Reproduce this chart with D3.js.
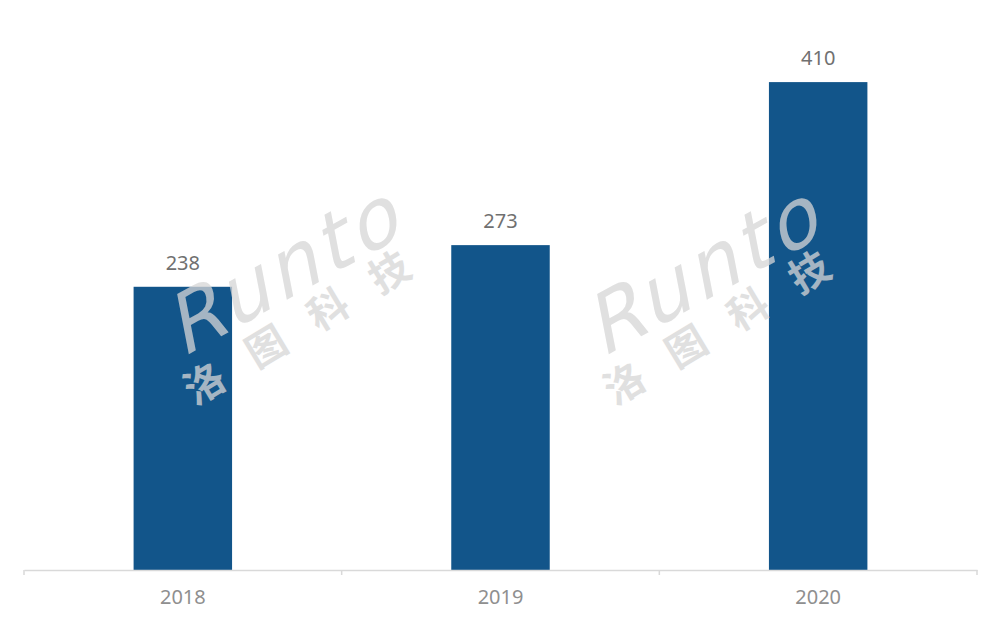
<!DOCTYPE html>
<html><head><meta charset="utf-8">
<script src="https://cdn.jsdelivr.net/npm/d3@7"></script>
<style>body{margin:0;background:#fff;}svg{display:block;}</style>
</head><body>
<svg id="chart" width="1000" height="626"></svg>
<script>
const categories = ["2018", "2019", "2020"];
const values = [238, 273, 410];
const watermarkLatin = "Runto";
const watermarkCJK = "洛图科技";

const svg = d3.select("#chart");
const W = 1000, H = 626;
const margin = {left: 24, right: 23, top: 20, bottom: 56};
const x = d3.scaleBand().domain(categories).range([margin.left, W - margin.right]).padding(0);
const y = d3.scaleLinear().domain([0, 450]).range([H - margin.bottom, H - margin.bottom - 1.19 * 450]);
const barW = x.bandwidth() * 0.31;

svg.append("rect").attr("width", W).attr("height", H).attr("fill", "#fff");

// bars
svg.append("g").selectAll("rect").data(values).join("rect")
  .attr("x", (d, i) => x(categories[i]) + x.bandwidth() / 2 - barW / 2)
  .attr("y", d => y(d))
  .attr("width", barW)
  .attr("height", d => y(0) - y(d))
  .attr("fill", "#12558a");

// value labels
svg.append("g").selectAll("text").data(values).join("text")
  .attr("x", (d, i) => x(categories[i]) + x.bandwidth() / 2)
  .attr("y", d => y(d) - 17)
  .attr("text-anchor", "middle")
  .attr("font-family", "'Noto Sans', 'DejaVu Sans', sans-serif")
  .attr("font-size", 20)
  .attr("fill", "#707070")
  .text(d => d);

// x axis
const axis = svg.append("g").attr("transform", `translate(0,${y(0)})`)
  .call(d3.axisBottom(x).tickSize(0).tickPadding(20));
axis.select(".domain").attr("stroke", "#d9d9d9").attr("stroke-width", 1.5);
axis.selectAll("text")
  .attr("font-family", "'Noto Sans', 'DejaVu Sans', sans-serif")
  .attr("font-size", 20)
  .attr("fill", "#8f8f8f");
// boundary ticks
const bounds = [x.range()[0]].concat(categories.map(c => x(c) + x.bandwidth()));
axis.selectAll(".bt").data(bounds).join("line").attr("class", "bt")
  .attr("x1", d => d).attr("x2", d => d).attr("y1", 0).attr("y2", 5)
  .attr("stroke", "#d9d9d9").attr("stroke-width", 1.5);

// watermarks
const wmPos = [[182, 358], [602, 358]];
wmPos.forEach(([wx, wy]) => {
  const g = svg.append("g")
    .attr("transform", `translate(${wx},${wy}) rotate(-29)`)
    .attr("opacity", 0.75)
    .attr("fill", "#d6d6d6");
  g.append("text")
    .attr("x", 0).attr("y", 0)
    .attr("font-family", "'DejaVu Sans', sans-serif")
    .attr("font-size", 80)
    .attr("font-weight", "normal")
    .attr("letter-spacing", 5)
    .attr("transform", "skewX(-18)")
    .text(watermarkLatin);
  g.append("text")
    .attr("x", -14).attr("y", 48)
    .attr("transform", "rotate(-2)")
    .attr("font-family", "'Noto Sans CJK SC', sans-serif")
    .attr("font-size", 40)
    .attr("font-weight", "bold")
    .attr("letter-spacing", 32)
    .text(watermarkCJK);
});
</script>
</body></html>
